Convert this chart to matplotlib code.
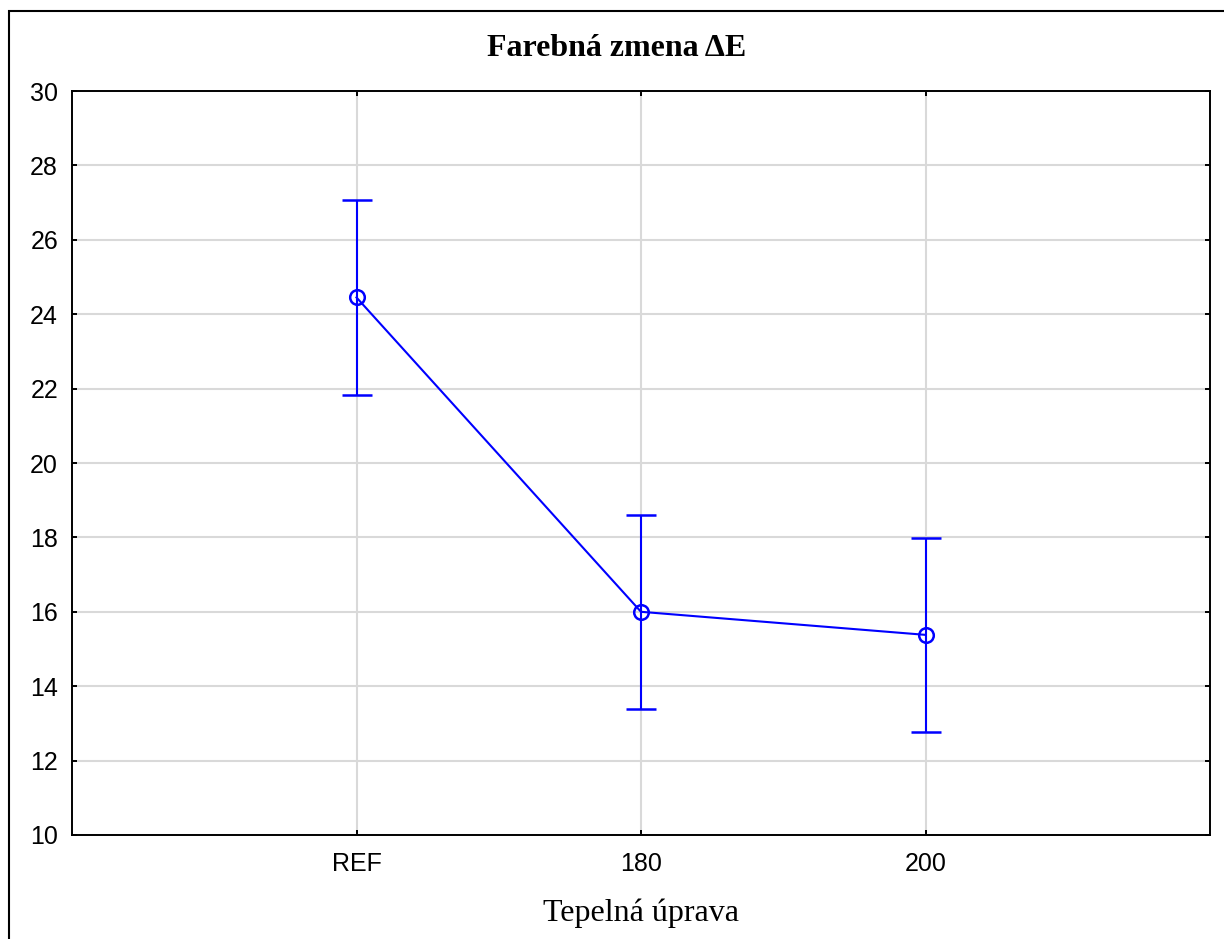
import matplotlib
matplotlib.use("Agg")
import matplotlib.pyplot as plt
from matplotlib.patches import Rectangle

categories = ["REF", "180", "200"]
means = [24.45, 16.0, 15.38]
upper = [27.07, 18.6, 17.98]
lower = [21.83, 13.39, 12.77]

title = "Farebná zmena ΔE"
xlabel = "Tepelná úprava"
yticks = [10, 12, 14, 16, 18, 20, 22, 24, 26, 28, 30]

fig = plt.figure(figsize=(12.24, 9.39), dpi=100)
ax = fig.add_axes([72/1224, 1-835/939, (1210-72)/1224, (835-91)/939])

x = list(range(len(categories)))
yerr = [[m - l for m, l in zip(means, lower)], [u - m for u, m in zip(upper, means)]]
ax.errorbar(x, means, yerr=yerr, color="#0000ff", lw=1.5, marker="o", ms=10.5,
            mfc="none", mec="#0000ff", mew=1.8, capsize=11, capthick=1.5, zorder=3)

ax.set_xlim(-1, 3)
ax.set_ylim(10, 30)
ax.set_xticks(x)
ax.set_xticklabels(categories)
ax.set_yticks(yticks)
ax.grid(True, color="#d9d9d9", lw=1.5, zorder=0)
ax.set_axisbelow(True)

for s in ax.spines.values():
    s.set_linewidth(1.4)
    s.set_color("black")

ax.tick_params(axis="both", direction="in", length=3.5, width=1.4,
               top=True, right=True, labelsize=18)
ax.tick_params(axis="x", pad=12)
ax.tick_params(axis="y", pad=10)
for lab in ax.get_xticklabels() + ax.get_yticklabels():
    lab.set_fontfamily("Liberation Sans")

fig.text(617/1224, 1-49/939, title, ha="center", va="center",
         fontfamily="Liberation Serif", fontweight="bold", fontsize=23)
fig.text(641/1224, 1-913/939, xlabel, ha="center", va="center",
         fontfamily="Liberation Serif", fontsize=23)

frame = Rectangle((9/1224, -0.1), 1.2, 1 - 11/939 + 0.1, transform=fig.transFigure,
                  fill=False, ec="black", lw=1.5, clip_on=False)
fig.add_artist(frame)

fig.savefig("out.png", dpi=100, facecolor="white")
